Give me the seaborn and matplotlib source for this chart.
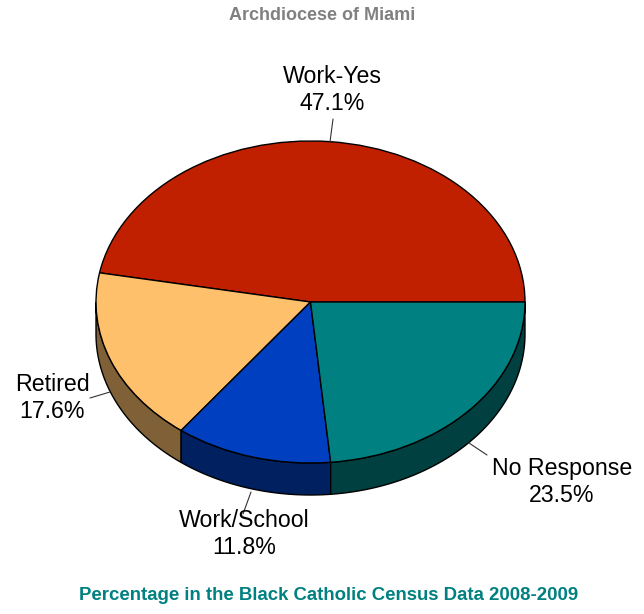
import numpy as np
import matplotlib
matplotlib.use("Agg")
import matplotlib.pyplot as plt
import seaborn as sns
from matplotlib.patches import Polygon

# Census responses (percent of respondents)
categories = ["Work-Yes", "Retired", "Work/School", "No Response"]
shares = [47.1, 17.6, 11.8, 23.5]

title = "Archdiocese of Miami"
footer = "Percentage in the Black Catholic Census Data 2008-2009"

# Slice colours: top faces and the darker front walls
top_colors = sns.color_palette(["#C02000", "#FFC06C", "#0040C0", "#008080"])
side_colors = sns.color_palette(["#601000", "#806036", "#002060", "#004040"])

sns.set_theme(style="white")
plt.rcParams["font.family"] = ["Liberation Sans", "DejaVu Sans"]

W, H = 644, 614
fig = plt.figure(figsize=(W / 100, H / 100), dpi=100)
ax = fig.add_axes([0, 0, 1, 1])

# Pixel layout of the tilted disc: centre, semi-axes and wall depth
cx, cy, rx, ry, depth = 310.5, 302.0, 214.5, 161.0, 32.0
d = depth / ry


def px(x, y):
    """Figure pixel position (origin top-left) -> data coordinates."""
    return (x - cx) / rx, (cy - y) / ry


# Top face of the pie
wedges, _ = ax.pie(
    shares,
    colors=top_colors,
    startangle=0,
    counterclock=True,
    wedgeprops=dict(edgecolor="black", linewidth=1.0, zorder=3),
)

# Front walls: the part of each slice lying in the lower half (180-360 deg)
edges = np.concatenate([[0], np.cumsum(shares)]) / np.sum(shares) * 360.0
for i in range(len(shares)):
    t0, t1 = max(edges[i], 180.0), min(edges[i + 1], 360.0)
    if t1 <= t0:
        continue
    t = np.radians(np.linspace(t0, t1, 80))
    upper = np.column_stack([np.cos(t), np.sin(t)])
    lower = np.column_stack([np.cos(t[::-1]), np.sin(t[::-1]) - d])
    ax.add_patch(Polygon(np.vstack([upper, lower]), closed=True,
                         facecolor=side_colors[i], edgecolor="black",
                         linewidth=1.0, zorder=2))

ax.set_aspect("auto")
x0, y_top = px(0, 0)
x1, y_bot = px(W, H)
ax.set_xlim(x0, x1)
ax.set_ylim(y_bot, y_top)
ax.axis("off")

# Category labels with short leader lines
label_pos = [(332, 90), (52, 398), (244, 534), (562, 482)]
leaders = [((333, 119), (330, 142)), ((90, 398), (110, 392)),
           ((243, 514), (251, 492)), ((469, 443), (487, 455))]
for name, val, (lx, ly), (p0, p1) in zip(categories, shares, label_pos, leaders):
    ax.text(*px(lx, ly), f"{name}\n{val:.1f}%", ha="center", va="center",
            fontsize=16.7, color="black", linespacing=1.24, zorder=5)
    (ax0, ay0), (ax1, ay1) = px(*p0), px(*p1)
    ax.plot([ax0, ax1], [ay0, ay1], color="#333333", lw=0.8, zorder=4)

ax.text(*px(322, 15), title, ha="center", va="center", fontsize=13,
        fontweight="bold", color="#808080")
ax.text(*px(329, 596), footer, ha="center", va="center", fontsize=13.4,
        fontweight="bold", color="#008080")

fig.savefig("out.png", dpi=100)
